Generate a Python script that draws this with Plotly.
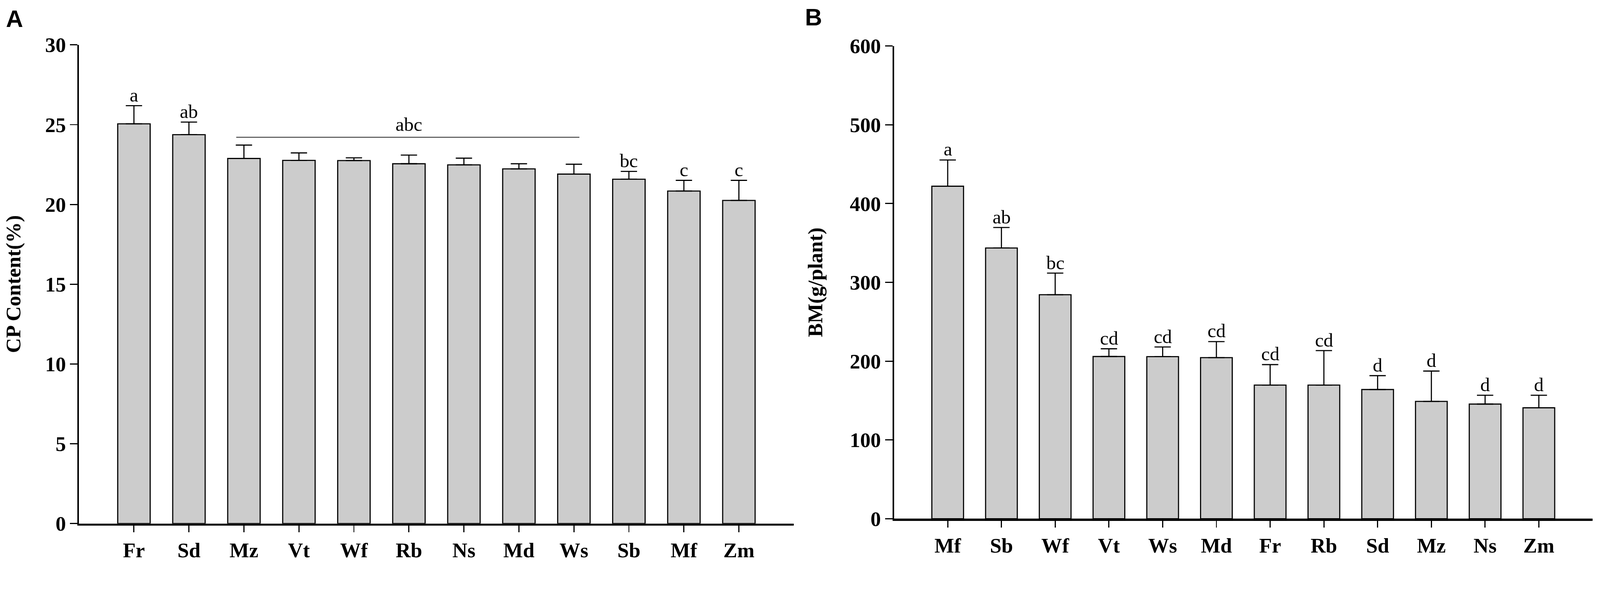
import plotly.graph_objects as go

# Panel A - CP content (%)
cp_species = ["Fr", "Sd", "Mz", "Vt", "Wf", "Rb", "Ns", "Md", "Ws", "Sb", "Mf", "Zm"]
cp_mean = [25.05, 24.37, 22.88, 22.76, 22.75, 22.55, 22.48, 22.23, 21.90, 21.58, 20.84, 20.25]
cp_err = [1.14, 0.79, 0.84, 0.47, 0.17, 0.54, 0.42, 0.32, 0.62, 0.49, 0.67, 1.26]
cp_letters = ["a", "ab", "", "", "", "", "", "", "", "bc", "c", "c"]

# Panel B - biomass (g/plant)
bm_species = ["Mf", "Sb", "Wf", "Vt", "Ws", "Md", "Fr", "Rb", "Sd", "Mz", "Ns", "Zm"]
bm_mean = [422.0, 343.6, 284.3, 205.9, 205.7, 204.5, 169.6, 169.6, 164.0, 148.9, 145.5, 140.8]
bm_err = [33.3, 26.0, 27.4, 9.8, 12.3, 20.3, 26.0, 43.8, 17.6, 38.5, 11.2, 15.9]
bm_letters = ["a", "ab", "bc", "cd", "cd", "cd", "cd", "cd", "d", "d", "d", "d"]

W, H = 4317, 1520
serif = "Liberation Serif, Times New Roman, serif"
tick_font = dict(family=serif, size=56, color="black", weight="bold")

fig = go.Figure()

for xs, ys, errs, xa, ya in [(cp_species, cp_mean, cp_err, "x", "y"),
                             (bm_species, bm_mean, bm_err, "x2", "y2")]:
    fig.add_trace(go.Bar(
        x=xs, y=ys, xaxis=xa, yaxis=ya,
        marker=dict(color="#cccccc", line=dict(color="black", width=3)),
        error_y=dict(type="data", array=errs, arrayminus=[0] * len(errs),
                     symmetric=False, color="black", thickness=3, width=22),
        showlegend=False,
    ))

# significance letters
for xs, ys, errs, letters, xa, ya in [(cp_species, cp_mean, cp_err, cp_letters, "x", "y"),
                                      (bm_species, bm_mean, bm_err, bm_letters, "x2", "y2")]:
    for s, m, e, t in zip(xs, ys, errs, letters):
        if t:
            fig.add_annotation(x=s, y=m + e, xref=xa, yref=ya, text=t, showarrow=False,
                               yanchor="bottom", yshift=-2,
                               font=dict(family=serif, size=52, color="black"))

# grouping line over Mz..Ws in panel A
fig.add_shape(type="line", xref="x", yref="y", x0=1.86, x1=8.1, y0=24.21, y1=24.21,
              line=dict(color="#222222", width=2))
fig.add_annotation(x=5, y=24.3, xref="x", yref="y", text="abc", showarrow=False,
                   yanchor="bottom", font=dict(family=serif, size=52, color="black"))

axis_common = dict(showline=True, linecolor="black", ticks="outside", tickcolor="black",
                   showgrid=False, zeroline=False, tickfont=tick_font, automargin=False)

fig.update_layout(
    template="none",
    width=W, height=H,
    margin=dict(l=0, r=0, t=0, b=0),
    plot_bgcolor="white", paper_bgcolor="white",
    bargap=0.41,
    xaxis=dict(domain=[213 / W, 2142 / W], anchor="y", type="category",
               range=[-1, 12], linewidth=6, ticklen=18, tickwidth=3,
               ticklabelstandoff=0, **axis_common),
    yaxis=dict(domain=[1 - 1412 / H, 1 - 121 / H], anchor="x", range=[0, 30],
               dtick=5, linewidth=4, ticklen=20, tickwidth=3, **axis_common),
    xaxis2=dict(domain=[2412 / W, 4297 / W], anchor="y2", type="category",
                range=[-1, 12], linewidth=6, ticklen=18, tickwidth=3,
                ticklabelstandoff=0, **axis_common),
    yaxis2=dict(domain=[1 - 1399 / H, 1 - 124 / H], anchor="x2", range=[0, 600],
                dtick=100, linewidth=4, ticklen=20, tickwidth=3, **axis_common),
)

# axis titles
fig.add_annotation(x=37 / W, y=1 - 766 / H, xref="paper", yref="paper", text="<b>CP Content(%)</b>",
                   textangle=-90, showarrow=False, xanchor="center", yanchor="middle",
                   font=dict(family=serif, size=56, color="black"))
fig.add_annotation(x=2200 / W, y=1 - 761 / H, xref="paper", yref="paper", text="<b>BM(g/plant)</b>",
                   textangle=-90, showarrow=False, xanchor="center", yanchor="middle",
                   font=dict(family=serif, size=56, color="black"))

# panel letters
for lbl, px, py in [("A", 39, 51), ("B", 2195, 46)]:
    fig.add_annotation(x=px / W, y=1 - py / H, xref="paper", yref="paper", text="<b>" + lbl + "</b>",
                       showarrow=False, xanchor="center", yanchor="middle",
                       font=dict(family="Liberation Sans, Arial, sans-serif", size=64, color="black"))

# fit the fixed-size figure into whatever viewport the page gets
fit_js = """
document.body.style.margin = '0';
document.body.style.overflow = 'hidden';
var gd = document.getElementById('{plot_id}');
var s = Math.min(window.innerWidth / %d, window.innerHeight / %d);
gd.style.transformOrigin = '0 0';
gd.style.transform = 'scale(' + s + ')';
""" % (W, H)

fig.write_html("out.html", post_script=fit_js, config={"displayModeBar": False})
